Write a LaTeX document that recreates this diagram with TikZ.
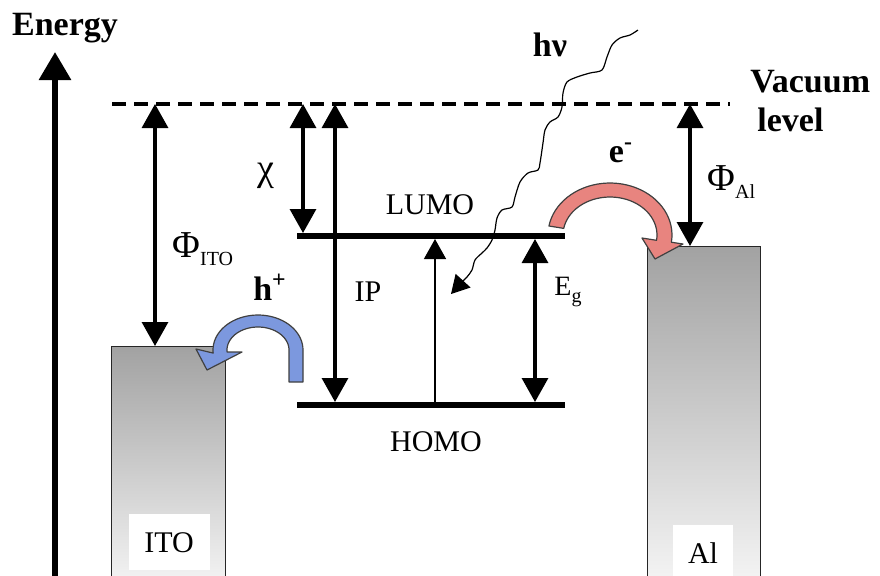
\documentclass[tikz,border=0pt]{standalone}
\usepackage{xcolor}
\usepackage{fontspec}
\usepackage{tikz}
\usetikzlibrary{arrows.meta}
\setmainfont{Liberation Serif}
\definecolor{epink}{HTML}{E8847F}
\definecolor{hblue}{HTML}{7C98DE}
\definecolor{metaltop}{HTML}{A2A2A2}
\definecolor{metalbot}{HTML}{F6F6F6}

\begin{document}
\begin{tikzpicture}[x=0.5pt, y=-0.5pt,
  axis/.style={-{Triangle[length=14pt, width=15.5pt]}, line width=3pt},
  vac/.style={line width=1.75pt, dash pattern=on 7pt off 4pt},
  level/.style={line width=3pt},
  gap/.style={{Triangle[length=12pt, width=13pt]}-{Triangle[length=12pt, width=13pt]}, line width=1.6pt},
  onegap/.style={-{Triangle[length=10pt, width=11pt]}, line width=0.7pt},
  photon/.style={-{Triangle[length=9pt, width=10pt]}, line width=0.6pt},
  metal/.style={draw=black!85, line width=0.7pt, top color=metaltop, bottom color=metalbot, anchor=north west, inner sep=0pt},
  tag/.style={fill=white, anchor=north, inner sep=0pt, font=\fontsize{15}{18}\selectfont},
  lbl/.style={inner sep=0pt, font=\fontsize{15}{18}\selectfont},
  sym/.style={inner sep=0pt, font=\fontsize{19}{22}\selectfont},
  bold/.style={inner sep=0pt, font=\bfseries\fontsize{17}{20}\selectfont},
  eflow/.style={fill=epink, draw=black!75, line width=0.6pt, line join=round},
  hflow/.style={fill=hblue, draw=black!75, line width=0.6pt, line join=round}
]
  \clip (0,0) rectangle (880,575);

  % electrodes
  \node[metal, minimum width=57pt, minimum height=122pt] (ito) at (111,346) {};
  \node[metal, minimum width=56.5pt, minimum height=172pt] (al) at (647,246) {};
  \node[tag, minimum width=40.5pt, minimum height=28pt] (itotag) at (169,514) {ITO};
  \node[tag, minimum width=30pt, minimum height=28pt] (altag) at (703,525) {Al};

  % energy axis
  \node[bold] (energy) at (65,28) {Energy};
  \coordinate (ebot) at (55,590);
  \coordinate (etop) at (55,52);
  \draw[axis] (ebot) -- (etop);

  % vacuum level
  \coordinate (vacL) at (112,104);
  \coordinate (vacR) at (730,104);
  \draw[vac] (vacL) -- (vacR);
  \node[bold, anchor=west] (vacuum) at (750,82) {Vacuum};
  \node[bold, anchor=west] (vaclevel) at (757,120) {level};

  % LUMO / HOMO
  \coordinate (lumoL) at (297,236);
  \coordinate (lumoR) at (565,236);
  \coordinate (homoL) at (297,405);
  \coordinate (homoR) at (565,405);
  \draw[level] (lumoL) -- (lumoR);
  \draw[level] (homoL) -- (homoR);
  \node[lbl] (lumo) at (430,205) {LUMO};
  \node[lbl] (homo) at (436,442) {HOMO};

  % energy gaps
  \coordinate (vacITO) at (155,104);
  \coordinate (topITO) at (155,346);
  \coordinate (vacChi) at (303,104);
  \coordinate (lumoChi) at (303,233);
  \coordinate (vacIP) at (335,104);
  \coordinate (homoIP) at (335,402);
  \coordinate (homoHop) at (435,402);
  \coordinate (lumoHop) at (435,239);
  \coordinate (lumoEg) at (535,239);
  \coordinate (homoEg) at (535,402);
  \coordinate (vacAl) at (690,104);
  \coordinate (topAl) at (690,246);
  \draw[gap] (vacITO) -- (topITO);
  \draw[gap] (vacChi) -- (lumoChi);
  \draw[gap] (vacIP) -- (homoIP);
  \draw[onegap] (homoHop) -- (lumoHop);
  \draw[gap] (lumoEg) -- (homoEg);
  \draw[gap] (vacAl) -- (topAl);

  \node[sym, anchor=west] (phiito) at (172,249) {Φ\raisebox{-0.45ex}{\fontsize{10}{12}\selectfont ITO}};
  \node[sym] (chi) at (266,176) {χ};
  \node[lbl] (ip) at (368,292) {IP};
  \node[lbl, anchor=west, font=\fontsize{14}{17}\selectfont] (eg) at (554,292) {E\raisebox{-0.5ex}{\fontsize{10}{12}\selectfont g}};
  \node[sym, anchor=west] (phial) at (707,182) {Φ\raisebox{-0.45ex}{\fontsize{10}{12}\selectfont Al}};

  % photon
  \coordinate (src) at (638,30);
  \coordinate (absorb) at (451,294);
  \draw[photon] plot[smooth, tension=0.5] coordinates {(src) (630,35) (620,38) (612,45) (607,57) (602,70)
    (590,73) (577,77) (567,82) (563,93) (562,107) (558,117) (550,122) (545,130) (543,143) (540,163)
    (538,170) (528,173) (520,182) (515,197) (512,207) (502,210) (497,218) (495,230) (492,240)
    (487,248) (482,253) (475,260) (472,270) (467,277) (462,282) (absorb)};
  \node[bold] (hnu) at (550,45) {hν};

  % carrier injection
  \draw[eflow] plot[domain=170:-8, samples=40] ({610+62*cos(\x)},{235-52*sin(\x)})
    -- (683,244) -- (655,259) -- (642,238)
    -- plot[domain=-8:170, samples=40] ({610+47*cos(\x)},{235-38*sin(\x)}) -- cycle;
  \node[bold] (elec) at (621,153) {e\textsuperscript{-}};

  \draw[hflow] (303,382) -- plot[domain=0:185, samples=40] ({258+45*cos(\x)},{350-35*sin(\x)})
    -- (196,349) -- (207,370) -- (242,352)
    -- plot[domain=185:0, samples=40] ({258+31*cos(\x)},{350-23*sin(\x)}) -- (289,382) -- cycle;
  \node[bold] (hole) at (270,287) {h\textsuperscript{+}};
\end{tikzpicture}
\end{document}
